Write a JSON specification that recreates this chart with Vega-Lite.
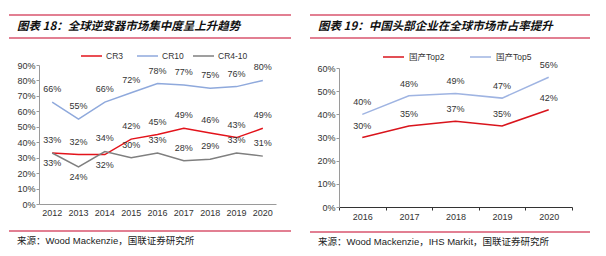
{
  "$schema": "https://vega.github.io/schema/vega-lite/v6.json",
  "background": "white",
  "padding": {"left": 8, "top": 14, "right": 0, "bottom": 0},
  "autosize": {"type": "pad"},
  "spacing": 17,
  "resolve": {"scale": {"color": "independent"}, "legend": {"color": "independent"}},
  "config": {
    "view": {"stroke": null},
    "font": "Liberation Sans, Noto Sans CJK SC",
    "axis": {"grid": false, "title": null, "labelFont": "Liberation Sans", "labelFontSize": 9, "labelColor": "#333"}
  },
  "hconcat": [
    {
      "bounds": "flush",
      "spacing": 27,
      "resolve": {"scale": {"color": "independent"}, "legend": {"color": "independent"}},
      "vconcat": [
        {
          "width": 282, "height": 23,
          "data": {"values": [{"t": "图表 18：全球逆变器市场集中度呈上升趋势"}]},
          "layer": [
            {"mark": {"type": "rule", "color": "#d9546e", "strokeWidth": 1.5}, "encoding": {"y": {"datum": 0, "type": "quantitative", "scale": {"domain": [0, 1]}, "axis": null}}},
            {"mark": {"type": "rule", "color": "#d9546e", "strokeWidth": 1.5}, "encoding": {"y": {"datum": 1, "type": "quantitative", "scale": {"domain": [0, 1]}, "axis": null}}},
            {"mark": {"type": "text", "align": "left", "baseline": "middle", "dx": 8, "fontSize": 11.5, "fontWeight": "bold", "fontStyle": "italic", "font": "Noto Sans CJK SC", "color": "#111"},
             "encoding": {"text": {"field": "t"}, "x": {"datum": 0, "type": "quantitative", "scale": {"domain": [0, 1]}, "axis": null}, "y": {"datum": 0.5, "type": "quantitative", "scale": {"domain": [0, 1]}, "axis": null}}}
          ]
        },
        {
          "width": 282, "height": 139,
          "data": {"values": [
            {"year": 2012, "s": "CR3", "v": 0.33}, {"year": 2013, "s": "CR3", "v": 0.32}, {"year": 2014, "s": "CR3", "v": 0.32},
            {"year": 2015, "s": "CR3", "v": 0.42}, {"year": 2016, "s": "CR3", "v": 0.45}, {"year": 2017, "s": "CR3", "v": 0.49},
            {"year": 2018, "s": "CR3", "v": 0.46}, {"year": 2019, "s": "CR3", "v": 0.43}, {"year": 2020, "s": "CR3", "v": 0.49},
            {"year": 2012, "s": "CR10", "v": 0.66}, {"year": 2013, "s": "CR10", "v": 0.55}, {"year": 2014, "s": "CR10", "v": 0.66},
            {"year": 2015, "s": "CR10", "v": 0.72}, {"year": 2016, "s": "CR10", "v": 0.78}, {"year": 2017, "s": "CR10", "v": 0.77},
            {"year": 2018, "s": "CR10", "v": 0.75}, {"year": 2019, "s": "CR10", "v": 0.76}, {"year": 2020, "s": "CR10", "v": 0.80},
            {"year": 2012, "s": "CR4-10", "v": 0.33}, {"year": 2013, "s": "CR4-10", "v": 0.24}, {"year": 2014, "s": "CR4-10", "v": 0.34},
            {"year": 2015, "s": "CR4-10", "v": 0.30}, {"year": 2016, "s": "CR4-10", "v": 0.33}, {"year": 2017, "s": "CR4-10", "v": 0.28},
            {"year": 2018, "s": "CR4-10", "v": 0.29}, {"year": 2019, "s": "CR4-10", "v": 0.33}, {"year": 2020, "s": "CR4-10", "v": 0.31}
          ]},
          "encoding": {
            "x": {"field": "year", "type": "ordinal", "scale": {"type": "band", "range": [30, 267], "paddingInner": 0, "paddingOuter": 0},
                  "axis": {"labelAngle": 0, "ticks": false, "domainColor": "#9a9a9a", "labelPadding": 4}},
            "y": {"field": "v", "type": "quantitative", "scale": {"domain": [0, 0.9]},
                  "axis": {"offset": -30, "format": ".0%", "values": [0, 0.1, 0.2, 0.3, 0.4, 0.5, 0.6, 0.7, 0.8, 0.9], "domainColor": "#9a9a9a", "tickColor": "#9a9a9a", "tickSize": 3, "labelPadding": 1}}
          },
          "layer": [
            {"mark": {"type": "line", "strokeWidth": 1.5},
             "encoding": {"color": {"field": "s", "type": "nominal",
               "scale": {"domain": ["CR3", "CR10", "CR4-10"], "range": ["#e3131b", "#8fa9dc", "#7f7f7f"]},
               "legend": {"orient": "none", "legendX": 71, "legendY": -20.5, "direction": "horizontal", "columns": 3, "gridAlign": "all", "title": null,
                          "symbolType": "stroke", "symbolSize": 441, "symbolStrokeWidth": 1.5, "labelFontSize": 8.5, "labelColor": "#333", "labelFont": "Liberation Sans", "labelOffset": 3, "columnPadding": -9}}}},
            {"transform": [{"filter": "!((datum.s === 'CR4-10' && datum.year < 2014) || (datum.s === 'CR3' && datum.year === 2014))"}],
             "mark": {"type": "text", "dy": -13, "fontSize": 9, "color": "#333", "font": "Liberation Sans"},
             "encoding": {"text": {"field": "v", "type": "quantitative", "format": ".0%"}}},
            {"transform": [{"filter": "(datum.s === 'CR4-10' && datum.year < 2014) || (datum.s === 'CR3' && datum.year === 2014)"}],
             "mark": {"type": "text", "dy": 10, "fontSize": 9, "color": "#333", "font": "Liberation Sans"},
             "encoding": {"text": {"field": "v", "type": "quantitative", "format": ".0%"}}}
          ]
        },
        {
          "width": 282, "height": 20,
          "data": {"values": [{"t": "来源：Wood Mackenzie，国联证券研究所"}]},
          "layer": [
            {"mark": {"type": "rule", "color": "#d9546e", "strokeWidth": 1.5}, "encoding": {"y": {"datum": 1, "type": "quantitative", "scale": {"domain": [0, 1]}, "axis": null}}},
            {"mark": {"type": "text", "align": "left", "baseline": "middle", "dx": 8, "fontSize": 9.5, "color": "#222", "font": "Liberation Sans, Noto Sans CJK SC"},
             "encoding": {"text": {"field": "t"}, "x": {"datum": 0, "type": "quantitative", "scale": {"domain": [0, 1]}, "axis": null}, "y": {"datum": 0.5, "type": "quantitative", "scale": {"domain": [0, 1]}, "axis": null}}}
          ]
        }
      ]
    },
    {
      "bounds": "flush",
      "spacing": 25,
      "resolve": {"scale": {"color": "independent"}, "legend": {"color": "independent"}},
      "vconcat": [
        {
          "width": 280, "height": 23,
          "data": {"values": [{"t": "图表 19：中国头部企业在全球市场市占率提升"}]},
          "layer": [
            {"mark": {"type": "rule", "color": "#d9546e", "strokeWidth": 1.5}, "encoding": {"y": {"datum": 0, "type": "quantitative", "scale": {"domain": [0, 1]}, "axis": null}}},
            {"mark": {"type": "rule", "color": "#d9546e", "strokeWidth": 1.5}, "encoding": {"y": {"datum": 1, "type": "quantitative", "scale": {"domain": [0, 1]}, "axis": null}}},
            {"mark": {"type": "text", "align": "left", "baseline": "middle", "dx": 8, "fontSize": 11.5, "fontWeight": "bold", "fontStyle": "italic", "font": "Noto Sans CJK SC", "color": "#111"},
             "encoding": {"text": {"field": "t"}, "x": {"datum": 0, "type": "quantitative", "scale": {"domain": [0, 1]}, "axis": null}, "y": {"datum": 0.5, "type": "quantitative", "scale": {"domain": [0, 1]}, "axis": null}}}
          ]
        },
        {
          "width": 280, "height": 144,
          "data": {"values": [
            {"year": 2016, "s": "国产Top2", "v": 0.30}, {"year": 2017, "s": "国产Top2", "v": 0.35}, {"year": 2018, "s": "国产Top2", "v": 0.37},
            {"year": 2019, "s": "国产Top2", "v": 0.35}, {"year": 2020, "s": "国产Top2", "v": 0.42},
            {"year": 2016, "s": "国产Top5", "v": 0.40}, {"year": 2017, "s": "国产Top5", "v": 0.48}, {"year": 2018, "s": "国产Top5", "v": 0.49},
            {"year": 2019, "s": "国产Top5", "v": 0.47}, {"year": 2020, "s": "国产Top5", "v": 0.56}
          ]},
          "encoding": {
            "x": {"field": "year", "type": "ordinal", "scale": {"type": "band", "range": [29, 262], "paddingInner": 0, "paddingOuter": 0},
                  "axis": {"labelAngle": 0, "tickBand": "extent", "ticks": true, "tickSize": 3, "tickColor": "#333", "domainColor": "#333", "labelPadding": 2}},
            "y": {"field": "v", "type": "quantitative", "scale": {"domain": [0, 0.6], "range": [144, 5]},
                  "axis": {"offset": -29, "format": ".0%", "values": [0, 0.1, 0.2, 0.3, 0.4, 0.5, 0.6], "domainColor": "#9a9a9a", "tickColor": "#9a9a9a", "tickSize": 3, "labelPadding": 1}}
          },
          "layer": [
            {"mark": {"type": "line", "strokeWidth": 1.5},
             "encoding": {"color": {"field": "s", "type": "nominal",
               "scale": {"domain": ["国产Top2", "国产Top5"], "range": ["#d9141c", "#9fb4e2"]},
               "legend": {"orient": "none", "legendX": 72, "legendY": -17.5, "direction": "horizontal", "columns": 2, "gridAlign": "all", "title": null,
                          "symbolType": "stroke", "symbolSize": 441, "symbolStrokeWidth": 1.5, "labelFontSize": 8.5, "labelColor": "#333", "labelFont": "Liberation Sans, Noto Sans CJK SC", "labelOffset": 4, "columnPadding": 22}}}},
            {"mark": {"type": "text", "dy": -12, "fontSize": 9, "color": "#333", "font": "Liberation Sans"},
             "encoding": {"text": {"field": "v", "type": "quantitative", "format": ".0%"}}}
          ]
        },
        {
          "width": 280, "height": 20,
          "data": {"values": [{"t": "来源：Wood Mackenzie，IHS Markit，国联证券研究所"}]},
          "layer": [
            {"mark": {"type": "rule", "color": "#d9546e", "strokeWidth": 1.5}, "encoding": {"y": {"datum": 1, "type": "quantitative", "scale": {"domain": [0, 1]}, "axis": null}}},
            {"mark": {"type": "text", "align": "left", "baseline": "middle", "dx": 8, "fontSize": 9.5, "color": "#222", "font": "Liberation Sans, Noto Sans CJK SC"},
             "encoding": {"text": {"field": "t"}, "x": {"datum": 0, "type": "quantitative", "scale": {"domain": [0, 1]}, "axis": null}, "y": {"datum": 0.5, "type": "quantitative", "scale": {"domain": [0, 1]}, "axis": null}}}
          ]
        }
      ]
    }
  ]
}
